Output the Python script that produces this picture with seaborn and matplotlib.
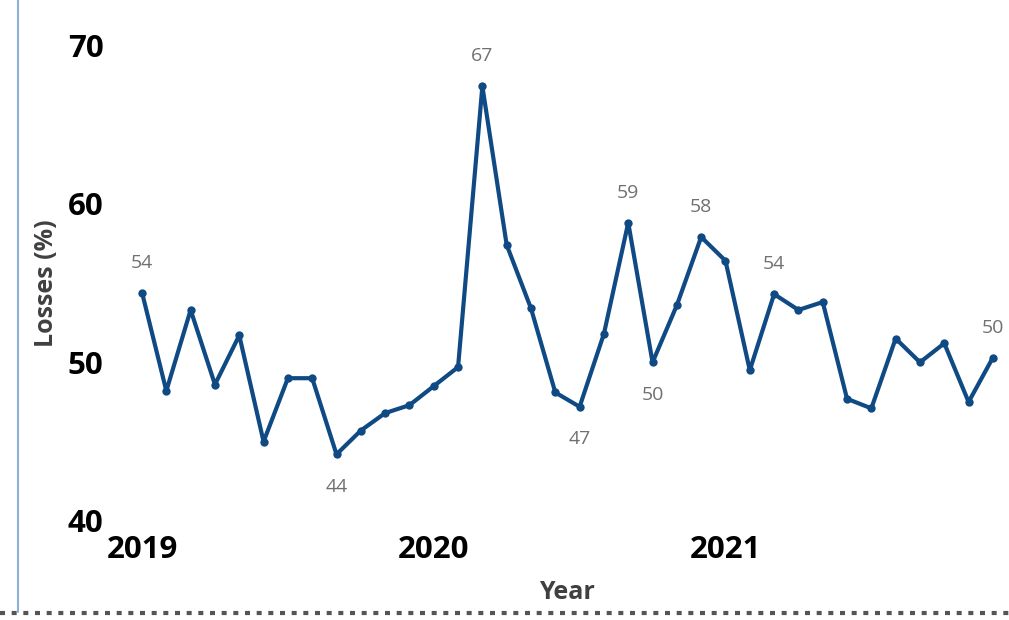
import numpy as np
import pandas as pd
import seaborn as sns
import matplotlib.pyplot as plt
from matplotlib.lines import Line2D

sns.set_theme(style="white")
plt.rcParams["font.family"] = ["Open Sans", "DejaVu Sans"]

# monthly losses, Jan 2019 .. Dec 2021
months = list(range(36))
losses = [54.4, 48.2, 53.3, 48.6, 51.7, 45.0, 49.0, 49.0, 44.2, 45.7, 46.8, 47.3,
          48.5, 49.7, 67.4, 57.4, 53.4, 48.1, 47.2, 51.8, 58.8, 50.0, 53.6, 57.9,
          56.4, 49.5, 54.3, 53.3, 53.8, 47.7, 47.1, 51.5, 50.0, 51.2, 47.5, 50.3]
year_ticks = [0, 12, 24]
year_labels = ["2019", "2020", "2021"]
# which points get a value label, and where (above / below)
label_above = [0, 14, 20, 23, 26, 35]
label_below = [8, 18, 21]

df = pd.DataFrame({"month": months, "losses": losses})

fig = plt.figure(figsize=(10.09, 6.2), dpi=100)
ax = fig.add_axes([0.1287, 0.1597, 0.8674, 0.7677])

line_color = "#0f4a84"
sns.lineplot(data=df, x="month", y="losses", ax=ax, color=line_color,
             linewidth=3.0, marker="o", markersize=6, markeredgewidth=0)

for i in label_above:
    ax.annotate(f"{losses[i]:.0f}", (months[i], losses[i]), xytext=(0, 15),
                textcoords="offset points", ha="center", va="bottom",
                fontsize=14, color="#707070")
for i in label_below:
    ax.annotate(f"{losses[i]:.0f}", (months[i], losses[i]), xytext=(0, -17),
                textcoords="offset points", ha="center", va="top",
                fontsize=14, color="#707070")

ax.set_xlim(-0.5, 35.5)
ax.set_ylim(40, 70)
ax.set_yticks([40, 50, 60, 70])
ax.set_xticks(year_ticks)
ax.set_xticklabels(year_labels)
ax.tick_params(axis="y", length=0, pad=19, labelsize=22.5, labelcolor="black")
ax.tick_params(axis="x", length=0, pad=10, labelsize=22.5, labelcolor="black")
for lab in ax.get_xticklabels() + ax.get_yticklabels():
    lab.set_fontweight("bold")

ax.set_xlabel("Year", fontsize=18, fontweight="bold", color="#404040", labelpad=11)
ax.set_ylabel("Losses (%)", fontsize=18, fontweight="bold", color="#404040", labelpad=6)
sns.despine(ax=ax, left=True, bottom=True)
ax.grid(False)

# frame decorations: left blue rule and bottom dotted rule
fig.add_artist(Line2D([18 / 1009, 18 / 1009], [1.0, 8 / 620], color="#8fb0d6",
                      linewidth=1.5, transform=fig.transFigure))
fig.add_artist(Line2D([0, 1], [7 / 620, 7 / 620], color="#555555", linewidth=3,
                      linestyle=(0, (1.2, 1.6)), transform=fig.transFigure))

fig.savefig("out.png", dpi=100)
